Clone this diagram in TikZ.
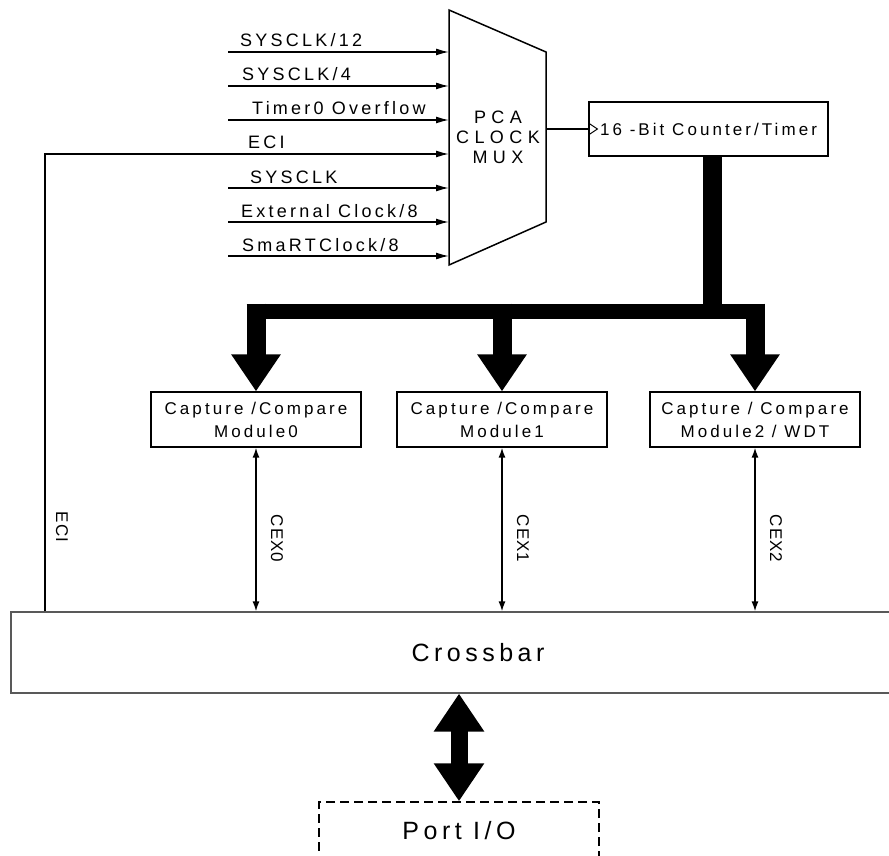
\documentclass[tikz,border=0pt]{standalone}
\usepackage{fontspec}
\setmainfont{Liberation Sans}
\newfontfamily\spaced[LetterSpace=18]{Liberation Sans}
\newfontfamily\wide[LetterSpace=30]{Liberation Sans}
\newfontfamily\tight[LetterSpace=6]{Liberation Sans}
\usetikzlibrary{arrows.meta,calc}
\begin{document}
\begin{tikzpicture}[x=1pt,y=-1pt,
  sig/.style={line width=1.5pt,-{Latex[length=13pt,width=7pt]}},
  lab/.style={anchor=base west,inner sep=0pt,font=\spaced\fontsize{18}{20}\selectfont},
  modbox/.style={draw,line width=1.2pt,minimum width=210pt,minimum height=55pt,inner sep=0pt,align=center,font=\spaced\fontsize{17}{23}\selectfont},
  bus/.style={line width=19pt,-{Triangle[length=37pt,width=47pt]}},
  cex/.style={line width=1.5pt,{Latex[length=10pt,width=7pt]}-{Latex[length=10pt,width=7pt]}},
  vlab/.style={rotate=-90,inner sep=0pt,font=\tight\fontsize{17}{17}\selectfont}]
\useasboundingbox (0,0) rectangle (889,856);
\clip (0,0) rectangle (889,856);
%
\coordinate (muxTL) at (449,10);
\coordinate (muxTR) at (546,52);
\coordinate (muxBR) at (546,222);
\coordinate (muxBL) at (449,265);
\draw[line width=1.5pt] (muxTL) -- (muxTR) -- (muxBR) -- (muxBL) -- cycle;
\node[align=center,font=\wide\fontsize{18}{20}\selectfont] (mux) at (498,137) {PCA\\CLOCK\\MUX};
%
\coordinate (in1) at (228,52);
\coordinate (in2) at (228,86);
\coordinate (in3) at (228,120);
\coordinate (in5) at (228,188);
\coordinate (in6) at (228,222);
\coordinate (in7) at (228,256);
\draw[sig] (in1) -- (in1 -| muxTL);
\draw[sig] (in2) -- (in2 -| muxTL);
\draw[sig] (in3) -- (in3 -| muxTL);
\draw[sig] (in5) -- (in5 -| muxTL);
\draw[sig] (in6) -- (in6 -| muxTL);
\draw[sig] (in7) -- (in7 -| muxTL);
\node[lab] at (240,47) {SYSCLK/12};
\node[lab] at (242,81) {SYSCLK/4};
\node[lab] at (252,115) {Timer0 Overflow};
\node[lab] at (248,149) {ECI};
\node[lab] at (250,183) {SYSCLK};
\node[lab] at (241,217) {External Clock/8};
\node[lab] at (242,251) {SmaRTClock/8};
%
\node[draw,line width=1.2pt,minimum width=239pt,minimum height=54pt,inner sep=0pt,font=\spaced\fontsize{17}{20}\selectfont] (cnt) at (708.5,129) {16 -Bit Counter/Timer};
\draw[line width=1.5pt] (muxTR |- cnt.west) -- (cnt.west);
\draw[line width=1pt] ($(cnt.west)+(0,-6)$) -- ($(cnt.west)+(9,0)$) -- ($(cnt.west)+(0,6)$);
%
\node[modbox] (m0) at (256,419.5) {Capture /Compare\\Module0};
\node[modbox] (m1) at (502,419.5) {Capture /Compare\\Module1};
\node[modbox] (m2) at (755,419.5) {Capture / Compare\\Module2 / WDT};
%
\coordinate (bar) at (0,311);
\coordinate (stem) at ($(cnt.south)+(4,0)$);
\draw[line width=19pt] (stem) -- (stem |- bar);
\draw[line width=15pt] (m0.north |- bar) ++(-9.5,0) -- ($(m2.north |- bar)+(9.5,0)$);
\draw[bus] (m0.north |- bar) ++(0,-7.5) -- (m0.north);
\draw[bus] (m1.north |- bar) ++(0,-7.5) -- (m1.north);
\draw[bus] (m2.north |- bar) ++(0,-7.5) -- (m2.north);
%
\node[draw=black!65,line width=1.2pt,minimum width=934pt,minimum height=81pt,font=\spaced\fontsize{25}{28}\selectfont] (cb) at (478,652.5) {Crossbar};
\node[draw,line width=1.5pt,dash pattern=on 9pt off 5pt,minimum width=280pt,minimum height=58pt,font=\spaced\fontsize{25}{28}\selectfont] (port) at (459,831) {Port I/O};
\draw[line width=17pt,{Triangle[length=38pt,width=48pt]}-{Triangle[length=38pt,width=48pt]}] (port.north |- cb.south) -- (port.north);
%
\draw[cex] (m0.south) -- (m0.south |- cb.north);
\draw[cex] (m1.south) -- (m1.south |- cb.north);
\draw[cex] (m2.south) -- (m2.south |- cb.north);
\node[vlab] (cex0) at ($(m0.south)!.5!(m0.south |- cb.north)+(21,9)$) {CEX0};
\node[vlab] (cex1) at ($(m1.south)!.5!(m1.south |- cb.north)+(21,9)$) {CEX1};
\node[vlab] (cex2) at ($(m2.south)!.5!(m2.south |- cb.north)+(21,9)$) {CEX2};
%
\draw[sig] (cb.north -| 45,0) |- (muxTL |- 0,154);
\node[vlab] (ecil) at (62,527) {ECI};
\end{tikzpicture}
\end{document}
